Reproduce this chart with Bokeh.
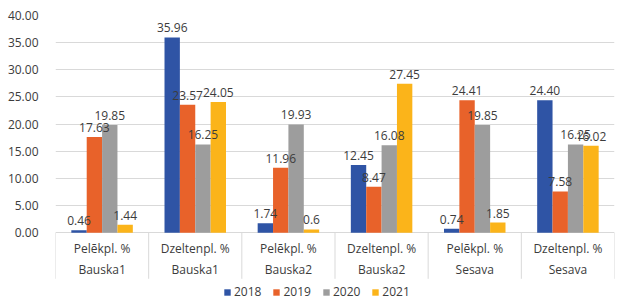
from bokeh.plotting import figure
from bokeh.models import (FactorRange, Range1d, FixedTicker, PrintfTickFormatter,
                          Legend, LegendItem, ColumnDataSource)
from bokeh.transform import dodge
from bokeh.core.properties import value
from bokeh.embed import file_html
from bokeh.resources import INLINE

sites = ["Bauska1", "Bauska1", "Bauska2", "Bauska2", "Sesava", "Sesava"]
types = ["Pelēkpl. %", "Dzeltenpl. %", "Pelēkpl. %", "Dzeltenpl. %", "Pelēkpl. %", "Dzeltenpl. %"]
years = ["2018", "2019", "2020", "2021"]
v2018 = ["0.46", "35.96", "1.74", "12.45", "0.74", "24.40"]
v2019 = ["17.63", "23.57", "11.96", "8.47", "24.41", "7.58"]
v2020 = ["19.85", "16.25", "19.93", "16.08", "19.85", "16.25"]
v2021 = ["1.44", "24.05", "0.6", "27.45", "1.85", "16.02"]
y_ticks = [0, 5, 10, 15, 20, 25, 30, 35, 40]
colors = ["#2F54A5", "#E8622A", "#9D9D9D", "#FBB41A"]

FONT = "Open Sans"
TXT = "#3C3C3C"
LINE = "#D9D9D9"

keys = [f"{s}|{t}" for s, t in zip(sites, types)]

# frame extends below zero so the two-row category labels, separators and legend
# sit inside it; the y axis only ticks 0..40
p = figure(width=619, height=300, output_backend="svg", toolbar_location=None,
           x_range=FactorRange(factors=keys, range_padding=0),
           y_range=Range1d(-12.5, 40),
           min_border_left=55, min_border_right=5, min_border_top=15, min_border_bottom=0)
p.outline_line_color = None
p.background_fill_color = "white"
p.border_fill_color = "white"
p.xaxis.visible = False

p.yaxis.ticker = FixedTicker(ticks=y_ticks)
p.yaxis.formatter = PrintfTickFormatter(format="%.2f")
p.yaxis.axis_line_color = None
p.yaxis.major_tick_line_color = None
p.yaxis.minor_tick_line_color = None
p.yaxis.major_label_text_font_size = "12px"
p.yaxis.major_label_text_color = TXT
p.yaxis.major_label_text_font = FONT
p.yaxis.major_label_standoff = 11
p.ygrid.ticker = FixedTicker(ticks=y_ticks)
p.ygrid.grid_line_color = LINE
p.xgrid.grid_line_color = None

bw = 0.165
offsets = [-1.5 * bw, -0.5 * bw, 0.5 * bw, 1.5 * bw]
series = [v2018, v2019, v2020, v2021]
items = []
for yr, vals, col, off in zip(years, series, colors, offsets):
    src = ColumnDataSource(dict(x=keys, y=[float(v) for v in vals], lbl=vals))
    r = p.vbar(x=dodge("x", off, range=p.x_range), top="y", width=bw, source=src,
               fill_color=col, line_color=None)
    items.append(LegendItem(label=yr, renderers=[r]))

for vals, off in zip(series, offsets):
    src = ColumnDataSource(dict(x=keys, y=[float(v) for v in vals], lbl=vals))
    p.text(x=dodge("x", off, range=p.x_range), y="y", text="lbl", source=src,
           text_align="center", text_baseline="bottom", y_offset=-5,
           text_font_size="12px", text_color=TXT, text_font=value(FONT))

# category separators (at factor boundaries), drawn down through the label rows
bounds = list(range(len(keys) + 1))
p.segment(x0=bounds, y0=[0] * len(bounds), x1=bounds, y1=[-8.5] * len(bounds),
          line_color=LINE, line_width=1)

# two-row category labels under the zero line
cat_src = ColumnDataSource(dict(x=keys, t=types, s=sites, y=[0] * len(keys)))
p.text(x="x", y="y", text="t", source=cat_src, y_offset=16,
       text_align="center", text_baseline="middle",
       text_font_size="12px", text_color=TXT, text_font=value(FONT))
p.text(x="x", y="y", text="s", source=cat_src, y_offset=37,
       text_align="center", text_baseline="middle",
       text_font_size="12px", text_color=TXT, text_font=value(FONT))

legend = Legend(items=items, orientation="horizontal", location=(168, 0),
                glyph_width=8, glyph_height=8, label_standoff=3, spacing=11,
                label_text_font_size="12px", label_text_color=TXT, label_text_font=FONT,
                border_line_color=None, background_fill_alpha=0, padding=0, margin=0)
p.add_layout(legend)

open("out.html", "w").write(file_html(p, INLINE))
